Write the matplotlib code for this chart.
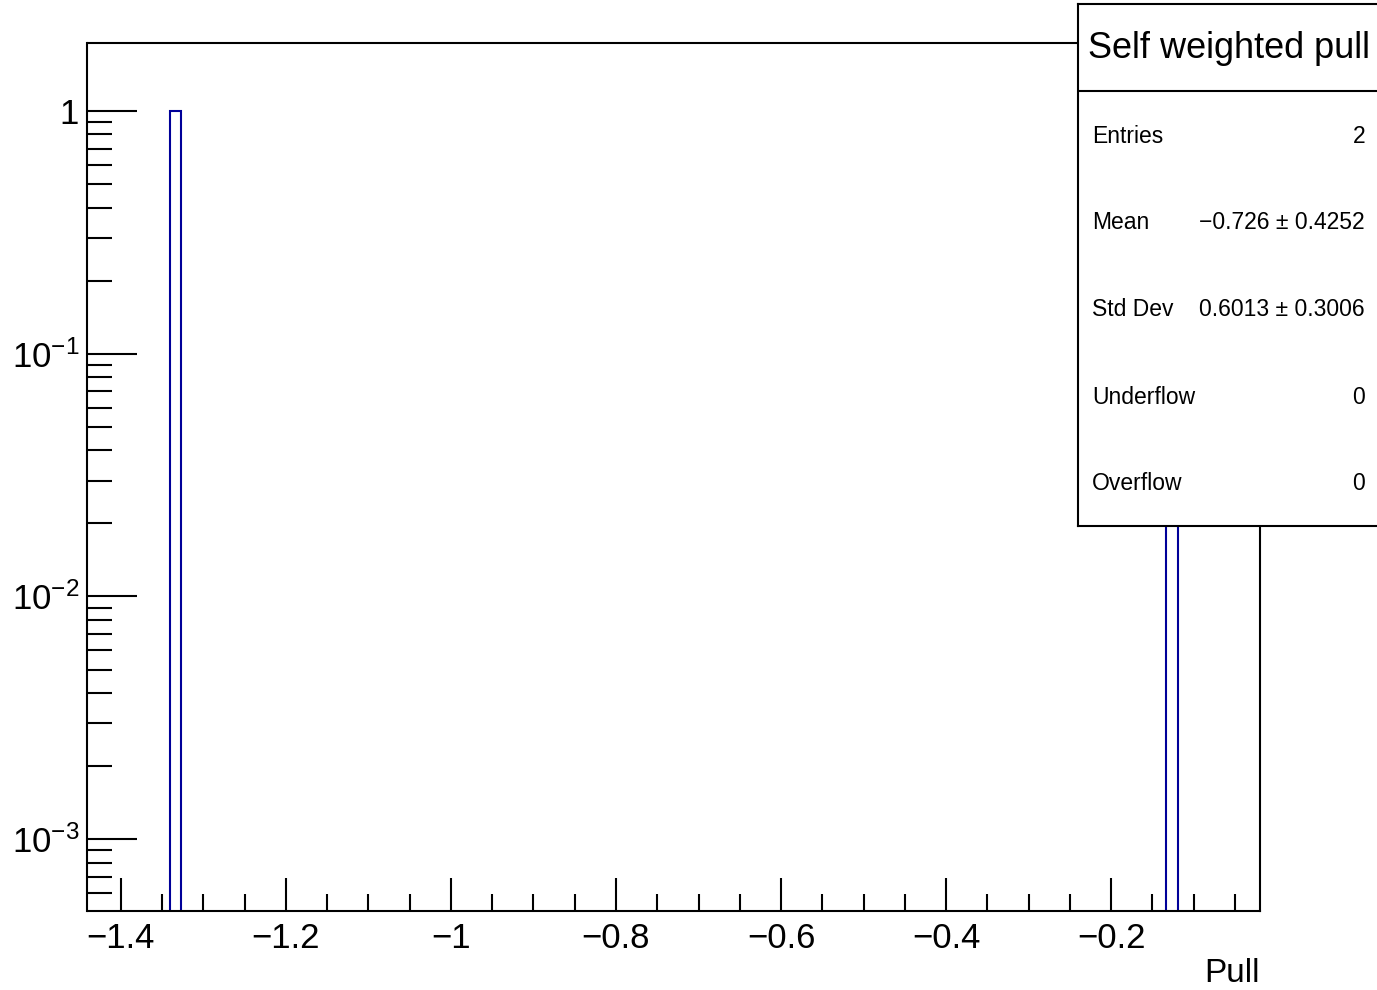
import numpy as np
import matplotlib
matplotlib.use("Agg")
import matplotlib.pyplot as plt
from matplotlib.ticker import FixedLocator, NullFormatter, LogLocator

plt.rcParams['font.family'] = ['Liberation Sans', 'DejaVu Sans']
plt.rcParams['axes.unicode_minus'] = True
plt.rcParams['mathtext.fontset'] = 'custom'
plt.rcParams['mathtext.rm'] = 'Liberation Sans'
plt.rcParams['mathtext.it'] = 'Liberation Sans:italic'
plt.rcParams['mathtext.bf'] = 'Liberation Sans:bold'

# Data
pull_values = [-1.3273, -0.1247]
pull_weights = [1.0, 1.0]
n_bins = 100
x_min, x_max = -1.4405, -0.0195
title = "Self weighted pull"
stat_labels = ["Entries", "Mean", "Std Dev", "Underflow", "Overflow"]
stat_values = ["2", "\u22120.726 \u00b1 0.4252", "0.6013 \u00b1 0.3006", "0", "0"]
x_major = [-1.4, -1.2, -1.0, -0.8, -0.6, -0.4, -0.2]
x_major_labels = ["\u22121.4", "\u22121.2", "\u22121", "\u22120.8", "\u22120.6", "\u22120.4", "\u22120.2"]
y_major = [1e-3, 1e-2, 1e-1, 1]
y_major_labels = [r"$\mathregular{10^{-3}}$", r"$\mathregular{10^{-2}}$", r"$\mathregular{10^{-1}}$", "1"]

W, H = 1377, 990
fig = plt.figure(figsize=(W / 100, H / 100), dpi=100)
L, R, T, B = 87.5, 1260, 43, 911
ax = fig.add_axes([L / W, 1 - B / H, (R - L) / W, (B - T) / H])

edges = np.linspace(x_min, x_max, n_bins + 1)
counts, _ = np.histogram(pull_values, bins=edges, weights=pull_weights)
nz = counts > 0
centers = 0.5 * (edges[:-1] + edges[1:])
width = edges[1] - edges[0]
ax.bar(centers[nz], counts[nz], width=width, bottom=1e-5, fill=False,
       edgecolor='#000099', linewidth=1.5, zorder=2)

ax.set_yscale('log')
ax.set_xlim(x_min, x_max)
ax.set_ylim(5.06e-4, 1.905)

for s in ax.spines.values():
    s.set_linewidth(1.5)

ax.xaxis.set_major_locator(FixedLocator(x_major))
ax.set_xticklabels(x_major_labels)
ax.xaxis.set_minor_locator(FixedLocator(np.arange(-1.45, 0.0, 0.05)))
ax.yaxis.set_major_locator(FixedLocator(y_major))
ax.set_yticklabels(y_major_labels)
ax.yaxis.set_minor_locator(LogLocator(base=10, subs=np.arange(2, 10)))
ax.yaxis.set_minor_formatter(NullFormatter())

ax.tick_params(axis='x', which='major', direction='in', length=24, width=1.5,
               labelsize=25, pad=8, top=False)
ax.tick_params(axis='x', which='minor', direction='in', length=12, width=1.5, top=False)
ax.tick_params(axis='y', which='major', direction='in', length=36, width=1.5,
               labelsize=25, pad=6, right=False)
ax.tick_params(axis='y', which='minor', direction='in', length=18, width=1.5, right=False)

fig.text(1260 / W, 1 - 973 / H, "Pull", ha='right', va='center', fontsize=24)

# Stats box
bx0, by0, bx1, by1 = 1078, 4, 1380, 526
sax = fig.add_axes([bx0 / W, 1 - by1 / H, (bx1 - bx0) / W, (by1 - by0) / H])
sax.set_xlim(bx0, bx1)
sax.set_ylim(by1, by0)
sax.set_xticks([])
sax.set_yticks([])
sax.set_facecolor('white')
for s in sax.spines.values():
    s.set_linewidth(1.5)
sax.axhline(91, color='black', linewidth=1.5)
sax.text(1229, 48, title, ha='center', va='center', fontsize=26)
rows_y = [136, 222, 309, 397, 483]
for lab, val, yy in zip(stat_labels, stat_values, rows_y):
    sax.text(1092, yy, lab, ha='left', va='center', fontsize=16.5)
    sax.text(1365, yy, val, ha='right', va='center', fontsize=16.5)

fig.savefig("out.png", dpi=100)
